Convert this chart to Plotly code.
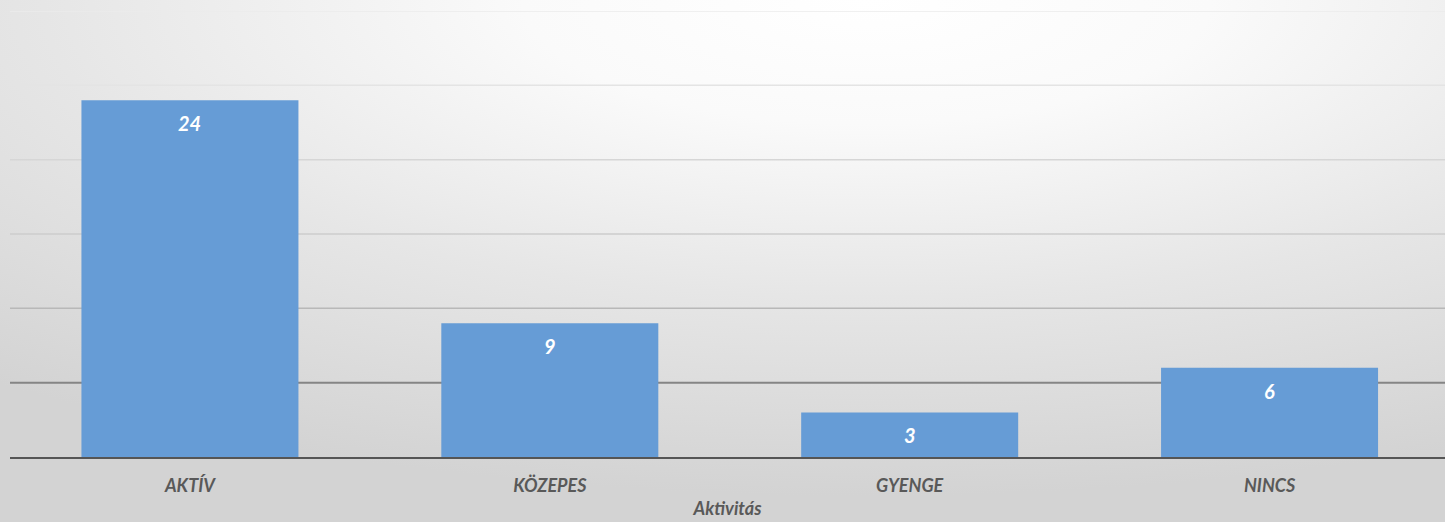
import base64
import plotly.graph_objects as go

categories = ["AKTÍV", "KÖZEPES", "GYENGE", "NINCS"]
values = [24, 9, 3, 6]
grid_values = [5, 10, 15, 20, 25, 30]
grid_colors = ["#858585", "#b8b8b8", "#cdcdcd", "#d6d6d6", "#e4e4e4", "#ebebeb"]
axis_title = "Aktivitás"

FONT = "Lato, 'Open Sans', sans-serif"

svg = """<svg xmlns='http://www.w3.org/2000/svg' width='1445' height='522' viewBox='0 0 1445 522' preserveAspectRatio='none'>
<defs><radialGradient id='g' cx='0.6' cy='0.0' r='0.95' gradientUnits='objectBoundingBox'>
<stop offset='0' stop-color='#ffffff'/><stop offset='0.25' stop-color='#fafafa'/><stop offset='0.6' stop-color='#e6e6e6'/><stop offset='1' stop-color='#d3d3d3'/></radialGradient></defs>
<rect x='0' y='0' width='1445' height='522' fill='url(#g)'/></svg>"""
src = "data:image/svg+xml;base64," + base64.b64encode(svg.encode()).decode()

fig = go.Figure()
fig.add_trace(go.Bar(
    x=categories, y=values, width=0.603,
    marker=dict(color="#669cd6", line=dict(width=0)),
    hoverinfo="skip",
))

for c, v in zip(categories, values):
    fig.add_annotation(x=c, y=v, text=f"<b><i>{v}</i></b>", showarrow=False,
                       yanchor="top", yshift=-9,
                       font=dict(family=FONT, size=20, color="white"))

W, H = 1445, 522
ml, mr, mt, mb = 10, 0, 11, 65
pw, ph = W - ml - mr, H - mt - mb

for gv, gc in zip(grid_values, grid_colors):
    fig.add_shape(type="line", xref="paper", yref="y", x0=0, x1=1, y0=gv, y1=gv,
                  line=dict(color=gc, width=2 if gv == 5 else 1.5), layer="below")

fig.add_layout_image(dict(source=src, xref="paper", yref="paper",
                          x=-ml / pw, y=1 + mt / ph, sizex=W / pw, sizey=H / ph,
                          xanchor="left", yanchor="top", sizing="stretch", layer="below"))

fig.update_layout(
    width=W, height=H,
    margin=dict(l=ml, r=mr, t=mt, b=mb, pad=0),
    paper_bgcolor="#dddddd", plot_bgcolor="rgba(0,0,0,0)",
    showlegend=False,
    xaxis=dict(range=[-0.5, 3.4875], showgrid=False, showline=True, linecolor="#555555",
               linewidth=2, ticks="outside", ticklen=11, tickcolor="rgba(0,0,0,0)",
               tickfont=dict(family=FONT, size=18, color="#595959"),
               tickprefix="<b><i>", ticksuffix="</i></b>",
               title=dict(text=f"<b><i>{axis_title}</i></b>", standoff=8,
                          font=dict(family=FONT, size=18, color="#595959"))),
    yaxis=dict(range=[0, 30], showgrid=False, zeroline=False, showticklabels=False,
               ticks=""),
)

fig.write_html("out.html", config={"displayModeBar": False},
               post_script="document.body.style.margin='0';document.body.style.padding='0';")
